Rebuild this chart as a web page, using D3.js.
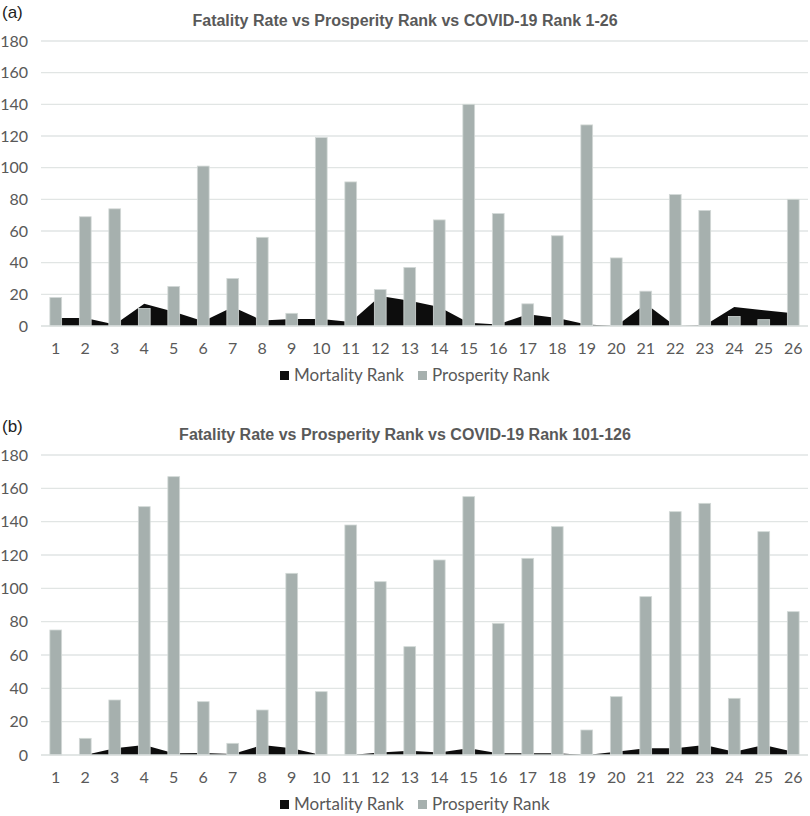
<!DOCTYPE html>
<html><head><meta charset="utf-8">
<script src="https://cdn.jsdelivr.net/npm/d3@7"></script>
<style>
html,body{margin:0;padding:0;background:#fff;}
svg{display:block;}
</style></head>
<body>
<svg id="chart" width="810" height="816"></svg>
<script>
const categories = d3.range(1, 27).map(String);
const yTicks = [0, 20, 40, 60, 80, 100, 120, 140, 160, 180];

const titleA = "Fatality Rate vs Prosperity Rank vs COVID-19 Rank 1-26";
const prosperityA = [18, 69, 74, 11, 25, 101, 30, 56, 8, 119, 91, 23, 37, 67, 140, 71, 14, 57, 127, 43, 22, 83, 73, 6, 4, 80];
const mortalityA  = [5, 5, 1, 14, 9, 3, 12, 3.5, 4.5, 4.5, 2.5, 19, 16, 12, 2, 1, 7.5, 5, 1, 0, 14, 0, 0.5, 12, 10, 8];

const titleB = "Fatality Rate vs Prosperity Rank vs COVID-19 Rank 101-126";
const prosperityB = [75, 10, 33, 149, 167, 32, 7, 27, 109, 38, 138, 104, 65, 117, 155, 79, 118, 137, 15, 35, 95, 146, 151, 34, 134, 86];
const mortalityB  = [0, 0, 4, 6, 1, 1.2, 0.6, 6, 4, 0, 0, 1.5, 2.5, 1.5, 4, 1, 1, 1, 0, 2, 4, 4, 6, 2, 6, 2];

const legendLabels = ["Mortality Rank", "Prosperity Rank"];
const colors = { mortality: "#0d0d0d", prosperity: "#a6b0ae" };

const svg = d3.select("#chart");
const textColor = "#595959";
const font = "Lato, 'Liberation Sans', Arial, sans-serif";

function panel(cfg) {
  const g = svg.append("g");
  const x = d3.scaleBand().domain(categories).range([41, 808]).paddingInner(0.6).paddingOuter(0.3);
  const xc = d3.scaleBand().domain(categories).range([41, 808]);
  const y = d3.scaleLinear().domain([0, 180]).range([cfg.bottom, cfg.top]);

  g.append("text").attr("x", 2).attr("y", cfg.top - 23).attr("font-family", "'Liberation Sans', Arial, sans-serif")
    .attr("font-size", 17).attr("fill", "#222").text(cfg.tag);
  g.append("text").attr("x", 405).attr("y", cfg.top - 15).attr("text-anchor", "middle")
    .attr("font-family", "'Liberation Sans Narrow', 'Liberation Sans', sans-serif").attr("font-weight", "bold")
    .attr("font-size", 16).attr("fill", textColor).text(cfg.title);

  g.append("g").selectAll("line").data(yTicks.slice(1)).join("line")
    .attr("x1", 41).attr("x2", 808).attr("y1", d => y(d)).attr("y2", d => y(d))
    .attr("stroke", "#e1e5e4").attr("stroke-width", 1.3);

  const ya = d3.axisLeft(y).tickValues(yTicks).tickSize(0).tickPadding(0);
  const yg = g.append("g").attr("transform", "translate(28,0)").call(ya);
  yg.select(".domain").remove();
  yg.selectAll("text").attr("font-family", font).attr("font-size", 16).attr("fill", textColor);

  const area = d3.area()
    .x((d, i) => xc(categories[i]) + xc.bandwidth() / 2)
    .y0(y(0)).y1(d => y(d));
  g.append("path").datum(cfg.mortality).attr("d", area).attr("fill", colors.mortality);

  g.append("g").selectAll("rect").data(cfg.prosperity).join("rect")
    .attr("x", (d, i) => x(categories[i]))
    .attr("width", x.bandwidth())
    .attr("y", d => y(d))
    .attr("height", d => y(0) - y(d))
    .attr("fill", colors.prosperity)
    .attr("stroke", "#d3d9d7").attr("stroke-width", 0.8);

  g.append("line").attr("x1", 41).attr("x2", 808).attr("y1", y(0)).attr("y2", y(0))
    .attr("stroke", "#d9dedd").attr("stroke-width", 1.3);

  const xa = d3.axisBottom(xc).tickSize(0).tickPadding(0);
  const xg = g.append("g").attr("transform", `translate(0,${y(0) + 28})`).call(xa);
  xg.select(".domain").remove();
  xg.selectAll("text").attr("dy", 0).attr("font-family", font).attr("font-size", 16).attr("fill", textColor);

  const ly = y(0) + 55;
  const lg = g.append("g");
  lg.append("rect").attr("x", 280).attr("y", ly - 10).attr("width", 9).attr("height", 9).attr("fill", colors.mortality);
  lg.append("text").attr("x", 294).attr("y", ly).attr("font-family", font).attr("font-size", 17)
    .attr("fill", textColor).text(legendLabels[0]);
  lg.append("rect").attr("x", 418).attr("y", ly - 10).attr("width", 9).attr("height", 9).attr("fill", colors.prosperity);
  lg.append("text").attr("x", 432).attr("y", ly).attr("font-family", font).attr("font-size", 17)
    .attr("fill", textColor).text(legendLabels[1]);
}

panel({ tag: "(a)", title: titleA, top: 41, bottom: 326, prosperity: prosperityA, mortality: mortalityA });
panel({ tag: "(b)", title: titleB, top: 455, bottom: 755, prosperity: prosperityB, mortality: mortalityB });
</script>
</body></html>
